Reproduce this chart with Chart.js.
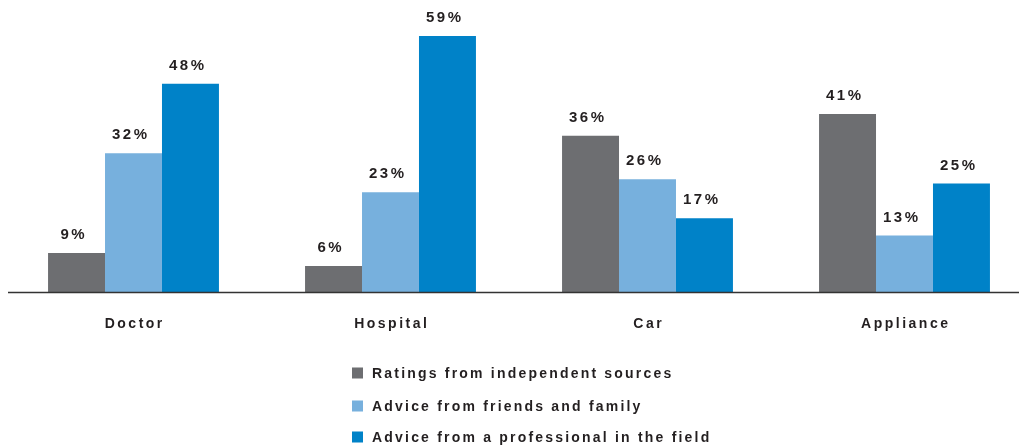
<!DOCTYPE html>
<html>
<head>
<meta charset="utf-8">
<script src="https://cdn.jsdelivr.net/npm/chart.js@4.4.1/dist/chart.umd.min.js"></script>
<style>
  html, body { margin: 0; padding: 0; background: #fff; overflow: hidden; }
  #wrap { width: 1040px; height: 447px; position: relative; }
</style>
</head>
<body>
<div id="wrap"><canvas id="chart"></canvas></div>
<script>
// Survey data: share of respondents per source, by purchase type
const categories = ['Doctor', 'Hospital', 'Car', 'Appliance'];
const seriesNames = [
  'Ratings from independent sources',
  'Advice from friends and family',
  'Advice from a professional in the field'
];
const independentRatings = [9, 6, 36, 41];
const friendsFamily = [32, 23, 26, 13];
const professionalAdvice = [48, 59, 17, 25];
const seriesColors = ['#6d6e71', '#77b0dd', '#0082c8'];

const TEXT = '#231f20';
const FAMILY = '"Liberation Sans", Arial, sans-serif';

// draws text with letter spacing, centred on x
function spacedText(ctx, str, x, y, spacing, align) {
  ctx.letterSpacing = spacing + 'px';
  ctx.textAlign = align || 'center';
  const dx = align === 'left' ? 0 : spacing / 2;
  ctx.fillText(str, x + dx, y);
}

// baseline, value labels, category labels and the legend list
const labelPlugin = {
  id: 'labels',
  afterDatasetsDraw(chart) {
    const ctx = chart.ctx;
    const area = chart.chartArea;
    ctx.save();

    ctx.strokeStyle = '#333';
    ctx.lineWidth = 1.5;
    ctx.beginPath();
    ctx.moveTo(8, area.bottom + 0.5);
    ctx.lineTo(chart.width, area.bottom + 0.5);
    ctx.stroke();

    ctx.fillStyle = TEXT;
    ctx.textBaseline = 'alphabetic';
    ctx.font = 'bold 15px ' + FAMILY;
    chart.data.datasets.forEach((ds, i) => {
      chart.getDatasetMeta(i).data.forEach((bar, j) => {
        spacedText(ctx, ds.data[j] + '%', bar.x - 4, bar.y - 14, 2.5);
      });
    });

    ctx.font = 'bold 14px ' + FAMILY;
    const xScale = chart.scales.x;
    categories.forEach((c, i) => {
      spacedText(ctx, c, xScale.getPixelForValue(i), 328, 2.5);
    });

    const rows = [373, 406, 437];
    ctx.textBaseline = 'middle';
    seriesNames.forEach((name, i) => {
      ctx.fillStyle = seriesColors[i];
      ctx.fillRect(352, rows[i] - 5.5, 11, 11);
      ctx.fillStyle = TEXT;
      spacedText(ctx, name, 372, rows[i] + 1, 2.2, 'left');
    });
    ctx.restore();
  }
};

new Chart(document.getElementById('chart'), {
  type: 'bar',
  data: {
    labels: categories,
    datasets: [
      { label: seriesNames[0], data: independentRatings, backgroundColor: seriesColors[0] },
      { label: seriesNames[1], data: friendsFamily, backgroundColor: seriesColors[1] },
      { label: seriesNames[2], data: professionalAdvice, backgroundColor: seriesColors[2] }
    ]
  },
  options: {
    responsive: true,
    maintainAspectRatio: false,
    animation: false,
    layout: { padding: { left: 5, right: 7, top: 0, bottom: 155 } },
    datasets: {
      bar: { categoryPercentage: 0.665, barPercentage: 1.0, borderWidth: 0 }
    },
    plugins: {
      legend: { display: false },
      tooltip: { enabled: false }
    },
    scales: {
      x: {
        grid: { display: false, drawTicks: false },
        border: { display: false },
        ticks: { display: false }
      },
      y: {
        min: 0,
        max: 67.3,
        display: false
      }
    }
  },
  plugins: [labelPlugin]
});
</script>
</body>
</html>
